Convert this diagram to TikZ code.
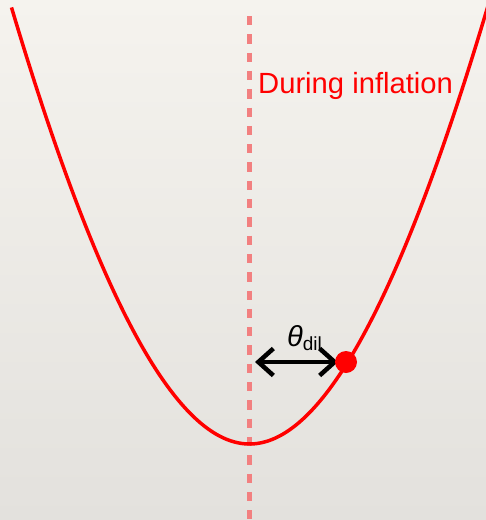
\documentclass[tikz,border=0pt]{standalone}
\usepackage{fontspec}
\setmainfont{Liberation Sans}
\usetikzlibrary{arrows.meta}
\definecolor{paperTop}{RGB}{245,243,238}
\definecolor{paperBot}{RGB}{227,225,221}
\definecolor{axisPink}{RGB}{242,128,128}
\definecolor{pureRed}{RGB}{255,0,0}
\tikzset{
  curvestyle/.style={draw=pureRed, line width=3.5pt},
  axisstyle/.style={draw=axisPink, line width=4.5pt, dash pattern=on 9.3pt off 9pt},
  labelstyle/.style={text=pureRed, font=\fontsize{29.2}{30}\selectfont, inner sep=0pt, anchor=base west},
  thetastyle/.style={text=black, font=\fontsize{29}{30}\selectfont, inner sep=0pt, anchor=base west},
  dotstyle/.style={circle, fill=pureRed, minimum size=22pt, inner sep=0pt},
  arrowstyle/.style={draw=black, line width=4.5pt, {Straight Barb[length=15pt, width=27pt, line width=4.5pt]}-{Straight Barb[length=15pt, width=27pt, line width=4.5pt]}}
}
\begin{document}
\begin{tikzpicture}[x=1pt, y=-1pt]
\useasboundingbox (0,0) rectangle (486,520);
\shade[top color=paperTop, bottom color=paperBot] (0,0) rectangle (486,520);
\clip (0,0) rectangle (486,520);
% dashed symmetry axis
\coordinate (axTop) at (249.5,16);
\coordinate (axBot) at (249.5,525);
\draw[axisstyle] (axTop) -- (axBot);
% potential curve
\draw[curvestyle] plot[domain=-2.38:2.47, samples=200, smooth] ({249.5+100*\x}, {444 - (90.4*\x*\x - 5.6*abs(\x)*\x*\x)});
% label
\node[labelstyle] (during) at (258,93) {During inflation};
% arrow and dot
\coordinate (arrL) at (255,362);
\coordinate (arrR) at (338,362);
\draw[arrowstyle] (arrL) -- (arrR);
\node[dotstyle] (dot) at (346,362) {};
\node[thetastyle] (theta) at (287,346) {\itshape θ\raisebox{-4.5pt}{\upshape\fontsize{19}{19}\selectfont dil}};
\end{tikzpicture}
\end{document}
